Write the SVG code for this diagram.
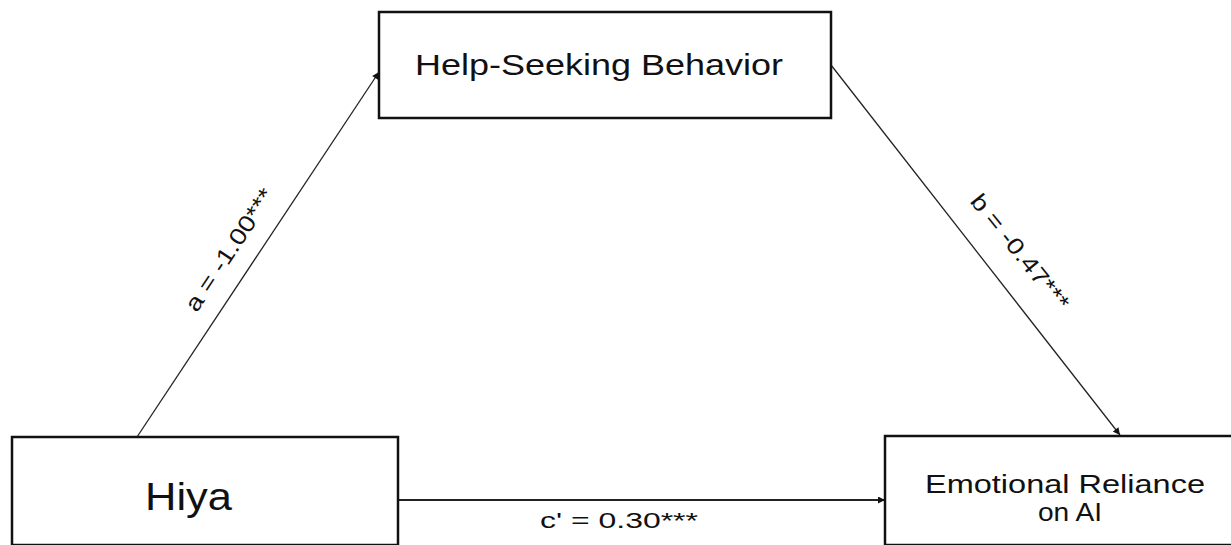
<svg xmlns="http://www.w3.org/2000/svg" width="1231" height="545" viewBox="0 0 1231 545">
  <defs>
    <marker id="arrow" viewBox="0 0 10 10" refX="10" refY="5" markerWidth="9" markerHeight="7" markerUnits="userSpaceOnUse" orient="auto">
      <path d="M0,0 L10,5 L0,10 Z" fill="#111"/>
    </marker>
    <style>
      .box { fill: #fff; stroke: #111; stroke-width: 2.5; }
      .edge { fill: none; stroke: #222; stroke-width: 1.3; marker-end: url(#arrow); }
      .lbl { font-family: "Liberation Sans", Arial, sans-serif; fill: #111; }
    </style>
  </defs>
  <rect width="1231" height="545" fill="#fff"/>

  <!-- connectors -->
  <g id="connectors">
    <line class="edge" x1="137" y1="437" x2="379" y2="72"/>
    <line class="edge" x1="831" y1="65" x2="1120" y2="435"/>
    <line class="edge" x1="398" y1="500" x2="885" y2="500" style="stroke-width:1.8"/>
    <text class="lbl" font-size="23" text-anchor="middle" textLength="142" lengthAdjust="spacingAndGlyphs" transform="translate(236,254) rotate(-56.5)">a = -1.00***</text>
    <text class="lbl" font-size="23" text-anchor="middle" textLength="142" lengthAdjust="spacingAndGlyphs" transform="translate(1014,257) rotate(51)">b = -0.47***</text>
    <text class="lbl" font-size="22" x="540" y="528" textLength="158" lengthAdjust="spacingAndGlyphs">c' = 0.30***</text>
  </g>

  <g id="node-help">
    <rect class="box" x="379" y="12" width="452" height="106"/>
    <text class="lbl" font-size="29" x="415" y="75" textLength="368" lengthAdjust="spacingAndGlyphs">Help-Seeking Behavior</text>
  </g>

  <g id="node-hiya">
    <rect class="box" x="12" y="437" width="386" height="108"/>
    <text class="lbl" font-size="38" x="145" y="510" textLength="87" lengthAdjust="spacingAndGlyphs">Hiya</text>
  </g>

  <g id="node-reliance">
    <rect class="box" x="885" y="436" width="365" height="109"/>
    <text class="lbl" font-size="26" x="925" y="493" textLength="280" lengthAdjust="spacingAndGlyphs">Emotional Reliance</text>
    <text class="lbl" font-size="26" x="1038" y="521" textLength="64" lengthAdjust="spacingAndGlyphs">on AI</text>
  </g>
</svg>
